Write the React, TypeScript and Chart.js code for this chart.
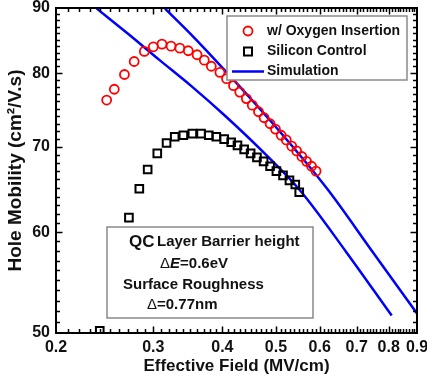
import { useEffect, useRef } from "react";
import { Chart, registerables } from "chart.js";

Chart.register(...registerables);

// ---- data ----
const oxygenField = [0.247, 0.255, 0.266, 0.277, 0.289, 0.300, 0.311, 0.323, 0.335, 0.347, 0.360, 0.371, 0.382, 0.396, 0.407, 0.419, 0.430, 0.442, 0.453, 0.465, 0.476, 0.488, 0.499, 0.511, 0.522, 0.534, 0.545, 0.557, 0.568, 0.580, 0.591];
const oxygenMobility = [76.2, 77.7, 79.8, 81.7, 83.2, 83.9, 84.3, 84.0, 83.7, 83.3, 82.7, 81.9, 81.0, 80.1, 79.2, 78.2, 77.3, 76.4, 75.5, 74.6, 73.8, 73.0, 72.3, 71.5, 70.9, 70.1, 69.5, 68.8, 68.2, 67.6, 67.0];

const siliconField = [0.240, 0.271, 0.283, 0.293, 0.305, 0.317, 0.328, 0.340, 0.353, 0.366, 0.378, 0.390, 0.403, 0.415, 0.426, 0.438, 0.450, 0.462, 0.475, 0.488, 0.501, 0.515, 0.529, 0.542, 0.551];
const siliconMobility = [50.2, 61.6, 64.9, 67.2, 69.2, 70.5, 71.3, 71.5, 71.7, 71.7, 71.5, 71.3, 71.0, 70.6, 70.2, 69.7, 69.2, 68.7, 68.2, 67.6, 67.0, 66.5, 65.9, 65.4, 64.5];

const simOxygenField = [0.315, 0.352, 0.401, 0.494, 0.619, 0.746, 0.9];
const simOxygenMobility = [89.9, 85.7, 80.7, 73.0, 64.9, 58.0, 51.8];

const simSiliconField = [0.237, 0.270, 0.308, 0.352, 0.404, 0.472, 0.553, 0.670, 0.810];
const simSiliconMobility = [89.9, 85.9, 81.9, 78.1, 74.1, 69.5, 64.7, 57.9, 51.6];

const xTickValues = [0.2, 0.3, 0.4, 0.5, 0.6, 0.7, 0.8, 0.9];
const yTickValues = [50, 60, 70, 80, 90];

const legendLabels = ["w/ Oxygen Insertion", "Silicon Control", "Simulation"];

const FONT = "'Liberation Sans', Arial, Helvetica, sans-serif";

const toPoints = (xs: number[], ys: number[]) => xs.map((x, i) => ({ x, y: ys[i] }));

const decorPlugin = {
  id: "decor",
  afterDatasetsDraw(chart: any) {
    const { ctx, chartArea: a, scales } = chart;
    const xs = scales.x;
    const ys = scales.y;
    ctx.save();
    ctx.strokeStyle = "#000";
    ctx.lineWidth = 1.5;
    ctx.beginPath();
    for (let i = 21; i < 90; i++) {
      const v = i / 100;
      const major = i % 10 === 0;
      const len = major ? 6.5 : 4;
      const px = Math.round(xs.getPixelForValue(v)) + 0.5;
      ctx.moveTo(px, a.bottom);
      ctx.lineTo(px, a.bottom - len);
      ctx.moveTo(px, a.top);
      ctx.lineTo(px, a.top + len);
    }
    for (let i = 51; i < 90; i++) {
      const major = i % 10 === 0;
      const len = major ? 6.5 : 4;
      const py = Math.round(ys.getPixelForValue(i)) + 0.5;
      ctx.moveTo(a.left, py);
      ctx.lineTo(a.left + len, py);
      ctx.moveTo(a.right, py);
      ctx.lineTo(a.right - len, py);
    }
    ctx.stroke();
    ctx.lineWidth = 2;
    ctx.strokeRect(a.left, a.top, a.right - a.left, a.bottom - a.top);
    ctx.restore();
  },
  afterDraw(chart: any) {
    const { ctx } = chart;
    ctx.save();
    // legend box
    ctx.fillStyle = "#fff";
    ctx.fillRect(227, 16, 180, 64);
    ctx.strokeStyle = "#8a8a8a";
    ctx.lineWidth = 1.5;
    ctx.strokeRect(227, 16, 180, 64);
    ctx.font = `bold 14px ${FONT}`;
    ctx.textBaseline = "middle";
    ctx.textAlign = "left";
    ctx.fillStyle = "#111";
    const rows = [31, 51.5, 71.5];
    ctx.strokeStyle = "#ff0000";
    ctx.lineWidth = 1.8;
    ctx.beginPath();
    ctx.arc(248, rows[0], 4.5, 0, Math.PI * 2);
    ctx.stroke();
    ctx.strokeStyle = "#000";
    ctx.lineWidth = 2;
    ctx.strokeRect(244, rows[1] - 4, 8, 8);
    ctx.strokeStyle = "#0000ff";
    ctx.lineWidth = 2.5;
    ctx.beginPath();
    ctx.moveTo(232, rows[2]);
    ctx.lineTo(264, rows[2]);
    ctx.stroke();
    legendLabels.forEach((t, i) => ctx.fillText(t, 267, rows[i]));

    // annotation box
    ctx.fillStyle = "#fff";
    ctx.fillRect(107, 227, 206, 91);
    ctx.strokeStyle = "#8a8a8a";
    ctx.lineWidth = 1.5;
    ctx.strokeRect(107, 227, 206, 91);
    ctx.fillStyle = "#111";
    ctx.font = `bold 17px ${FONT}`;
    ctx.fillText("QC", 129, 242);
    ctx.font = `bold 15px ${FONT}`;
    ctx.fillText("Layer Barrier height", 157, 242);
    let x = 160;
    ctx.font = `15px ${FONT}`;
    ctx.fillText("\u0394", x, 264);
    x += ctx.measureText("\u0394").width;
    ctx.font = `italic bold 15px ${FONT}`;
    ctx.fillText("E", x, 264);
    x += ctx.measureText("E").width;
    ctx.font = `bold 15px ${FONT}`;
    ctx.fillText("=0.6eV", x, 264);
    ctx.fillText("Surface Roughness", 123, 285);
    x = 147;
    ctx.font = `15px ${FONT}`;
    ctx.fillText("\u0394", x, 305);
    x += ctx.measureText("\u0394").width;
    ctx.font = `bold 15px ${FONT}`;
    ctx.fillText("=0.77nm", x, 305);
    ctx.restore();
  },
};

export default function App() {
  const ref = useRef<HTMLCanvasElement>(null);
  useEffect(() => {
    document.body.style.margin = "0";
    const canvas = ref.current;
    if (!canvas) return;
    const tickFont = { family: FONT, size: 16, weight: "bold" as const };
    const chart = new Chart(canvas, {
      type: "scatter",
      data: {
        datasets: [
          {
            label: legendLabels[0],
            data: toPoints(oxygenField, oxygenMobility),
            pointStyle: "circle",
            pointRadius: 4.5,
            pointBorderWidth: 1.8,
            pointBorderColor: "#ff0000",
            pointBackgroundColor: "rgba(0,0,0,0)",
            showLine: false,
          },
          {
            label: legendLabels[1],
            data: toPoints(siliconField, siliconMobility),
            pointStyle: "rect",
            pointRadius: 5.4,
            pointBorderWidth: 2,
            pointBorderColor: "#000",
            pointBackgroundColor: "rgba(0,0,0,0)",
            showLine: false,
          },
          {
            label: legendLabels[2],
            data: toPoints(simOxygenField, simOxygenMobility),
            showLine: true,
            borderColor: "#0000ff",
            borderWidth: 2.5,
            pointRadius: 0,
            cubicInterpolationMode: "monotone",
          },
          {
            label: legendLabels[2],
            data: toPoints(simSiliconField, simSiliconMobility),
            showLine: true,
            borderColor: "#0000ff",
            borderWidth: 2.5,
            pointRadius: 0,
            cubicInterpolationMode: "monotone",
          },
        ],
      },
      options: {
        responsive: false,
        animation: false,
        devicePixelRatio: 1,
        layout: { padding: { top: 8, right: 10, left: 0, bottom: 0 } },
        plugins: { legend: { display: false }, tooltip: { enabled: false } },
        scales: {
          x: {
            type: "logarithmic",
            min: 0.2,
            max: 0.9,
            afterBuildTicks: (s: any) => {
              s.ticks = xTickValues.map((v) => ({ value: v }));
            },
            afterFit: (s: any) => {
              s.height = 48;
              s.paddingLeft = 0;
              s.paddingRight = 0;
            },
            grid: { display: false, drawTicks: false },
            border: { display: false },
            ticks: {
              autoSkip: false,
              maxRotation: 0,
              padding: 5,
              color: "#111",
              font: tickFont,
              callback: (v: any) => Number(v).toFixed(1),
            },
            title: {
              display: true,
              text: "Effective Field (MV/cm)",
              color: "#111",
              font: { family: FONT, size: 17, weight: "bold" },
              padding: { top: 0, bottom: 4 },
            },
          },
          y: {
            type: "logarithmic",
            min: 50,
            max: 90,
            afterBuildTicks: (s: any) => {
              s.ticks = yTickValues.map((v) => ({ value: v }));
            },
            afterFit: (s: any) => {
              s.width = 56;
              s.paddingTop = 0;
              s.paddingBottom = 0;
            },
            grid: { display: false, drawTicks: false },
            border: { display: false },
            ticks: {
              autoSkip: false,
              padding: 6,
              color: "#111",
              font: tickFont,
              callback: (v: any) => String(v),
            },
            title: {
              display: true,
              text: "Hole Mobility (cm\u00B2/V.s)",
              color: "#111",
              font: { family: FONT, size: 19, weight: "bold" },
              padding: { top: 4, bottom: 0 },
            },
          },
        },
      },
      plugins: [decorPlugin],
    } as any);
    return () => chart.destroy();
  }, []);
  return (
    <div style={{ width: 427, height: 381 }}>
      <canvas ref={ref} width={427} height={381} />
    </div>
  );
}
